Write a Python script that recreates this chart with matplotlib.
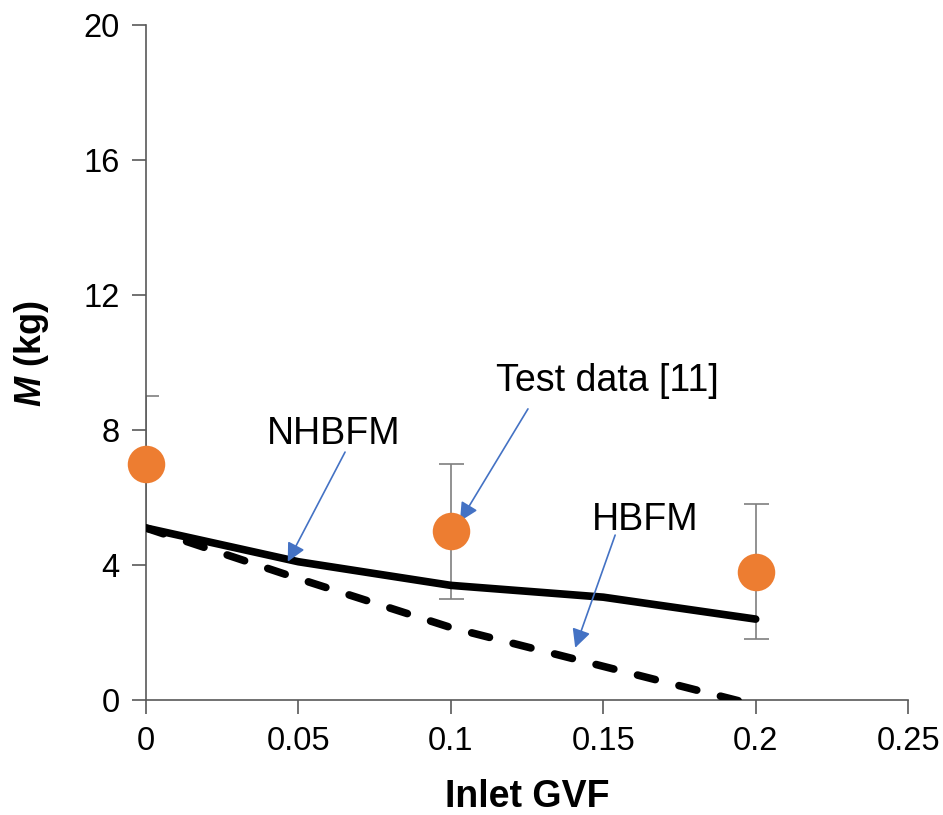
import matplotlib
matplotlib.use("Agg")
import matplotlib.pyplot as plt

plt.rcParams['font.family'] = ['Liberation Sans', 'DejaVu Sans']
plt.rcParams['mathtext.fontset'] = 'custom'
plt.rcParams['mathtext.rm'] = 'Liberation Sans:bold'
plt.rcParams['mathtext.it'] = 'Liberation Sans:bold:italic'

# data
gvf = [0, 0.05, 0.1, 0.15, 0.2]
nhbfm = [5.1, 4.1, 3.4, 3.05, 2.4]
hbfm = [5.1, 3.6, 2.15, 1.0, -0.15]

test_gvf = [0, 0.1, 0.2]
test_m = [7.0, 5.0, 3.8]
test_err = [2.0, 2.0, 2.0]

xticks = [0, 0.05, 0.1, 0.15, 0.2, 0.25]
xticklabels = ["0", "0.05", "0.1", "0.15", "0.2", "0.25"]
yticks = [0, 4, 8, 12, 16, 20]

fig = plt.figure(figsize=(9.43, 8.15), dpi=100)
ax = fig.add_axes([0.1548, 0.141, 0.8082, 0.828])

ax.plot(gvf, nhbfm, color="black", lw=5.5, solid_capstyle="round", zorder=3)
ax.plot(gvf, hbfm, color="black", lw=5.5, dashes=(2.4, 3.2),
        dash_capstyle="round", zorder=3)

ax.errorbar(test_gvf, test_m, yerr=test_err, fmt="none", ecolor="#7f7f7f",
            elinewidth=1.2, capsize=9, capthick=1.2, zorder=2)
ax.plot(test_gvf, test_m, "o", color="#ED7D31", ms=27, mec="none",
        clip_on=False, zorder=4)

ax.set_xlim(0, 0.25)
ax.set_ylim(0, 20)
ax.set_xticks(xticks)
ax.set_xticklabels(xticklabels)
ax.set_yticks(yticks)

for s in ["top", "right"]:
    ax.spines[s].set_visible(False)
for s in ["left", "bottom"]:
    ax.spines[s].set_color("#595959")
    ax.spines[s].set_linewidth(1.2)
ax.tick_params(direction="out", length=10, width=1.2, color="#595959",
               labelsize=23.5)
ax.tick_params(axis="y", pad=9)
ax.tick_params(axis="x", pad=9)

xl = ax.set_xlabel("Inlet GVF", fontsize=27, fontweight="bold", va="center")
ax.xaxis.set_label_coords(0.5, -0.144)
yl = ax.set_ylabel(r"$M$ (kg)", fontsize=26, fontweight="bold", va="center")
ax.yaxis.set_label_coords(-0.15, 0.513)

arrow = dict(arrowstyle="-|>", color="#4472C4", lw=1.2, mutation_scale=28,
             shrinkA=0, shrinkB=0)
ax.text(0.0617, 7.88, "NHBFM", fontsize=27, ha="center", va="center")
ax.annotate("", xy=(0.0465, 4.1), xytext=(0.0653, 7.35), arrowprops=arrow)
ax.text(0.1515, 9.45, "Test data [11]", fontsize=27, ha="center", va="center")
ax.annotate("", xy=(0.103, 5.3), xytext=(0.1253, 8.63), arrowprops=arrow)
ax.text(0.1637, 5.34, "HBFM", fontsize=27, ha="center", va="center")
ax.annotate("", xy=(0.1408, 1.55), xytext=(0.1539, 4.89), arrowprops=arrow)

fig.savefig("out.png", dpi=100)
